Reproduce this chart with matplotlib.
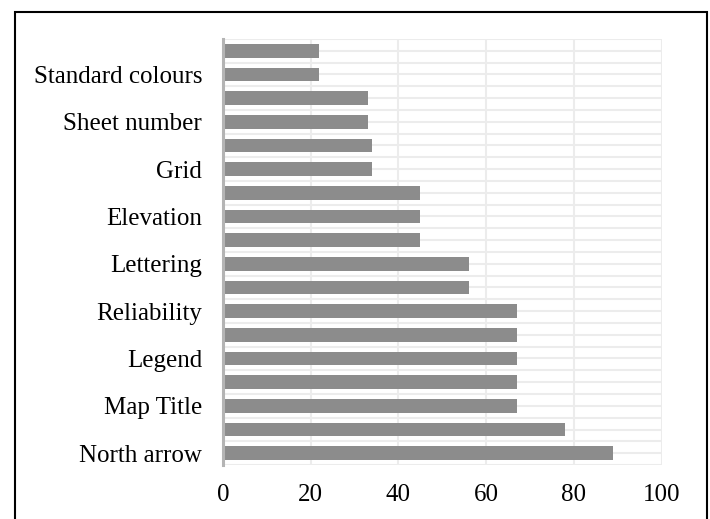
import numpy as np
import matplotlib.pyplot as plt
from matplotlib.patches import Rectangle

# bottom to top, labels only shown on every other bar in the source
labels = ['North arrow', '', 'Map Title', '', 'Legend', '', 'Reliability', '',
          'Lettering', '', 'Elevation', '', 'Grid', '', 'Sheet number', '',
          'Standard colours', '']
values = [89, 78, 67, 67, 67, 67, 67, 56, 56, 45, 45, 45, 34, 34, 33, 33, 22, 22]
xticks = [0, 20, 40, 60, 80, 100]

plt.rcParams['font.family'] = ['Liberation Serif', 'DejaVu Serif']

fig = plt.figure(figsize=(7.1, 5.19), dpi=100)
ax = fig.add_axes([0.314, 0.104, 0.618, 0.821])

y = np.arange(len(values))
ax.barh(y, values, height=0.57, color='#8c8c8c', zorder=3)

ax.set_xlim(0, 100)
ax.set_ylim(-0.5, len(values) - 0.5)
ax.set_xticks(xticks)
ax.set_yticks(y)
ax.set_yticklabels(labels)

# grid every half category, like the source
for g in np.arange(-0.5, len(values), 0.5):
    ax.axhline(g, color='#ececec', lw=1.5, zorder=1)
for xt in xticks[1:]:
    ax.axvline(xt, color='#ececec', lw=1.5, zorder=1)

for s in ['top', 'right', 'bottom']:
    ax.spines[s].set_visible(False)
ax.spines['left'].set_color('#b4b4b4')
ax.spines['left'].set_linewidth(2.2)
ax.spines['left'].set_zorder(4)

ax.tick_params(axis='both', length=0, labelsize=18, colors='#000000')
ax.tick_params(axis='x', pad=14)
ax.tick_params(axis='y', pad=15)

# outer frame of the chart
fig.patches.append(Rectangle((15 / 710, -0.01), 692 / 710, 1 - 12 / 519 + 0.01,
                             transform=fig.transFigure, fill=False,
                             edgecolor='black', lw=1.5))

fig.savefig('out.png', dpi=100)
